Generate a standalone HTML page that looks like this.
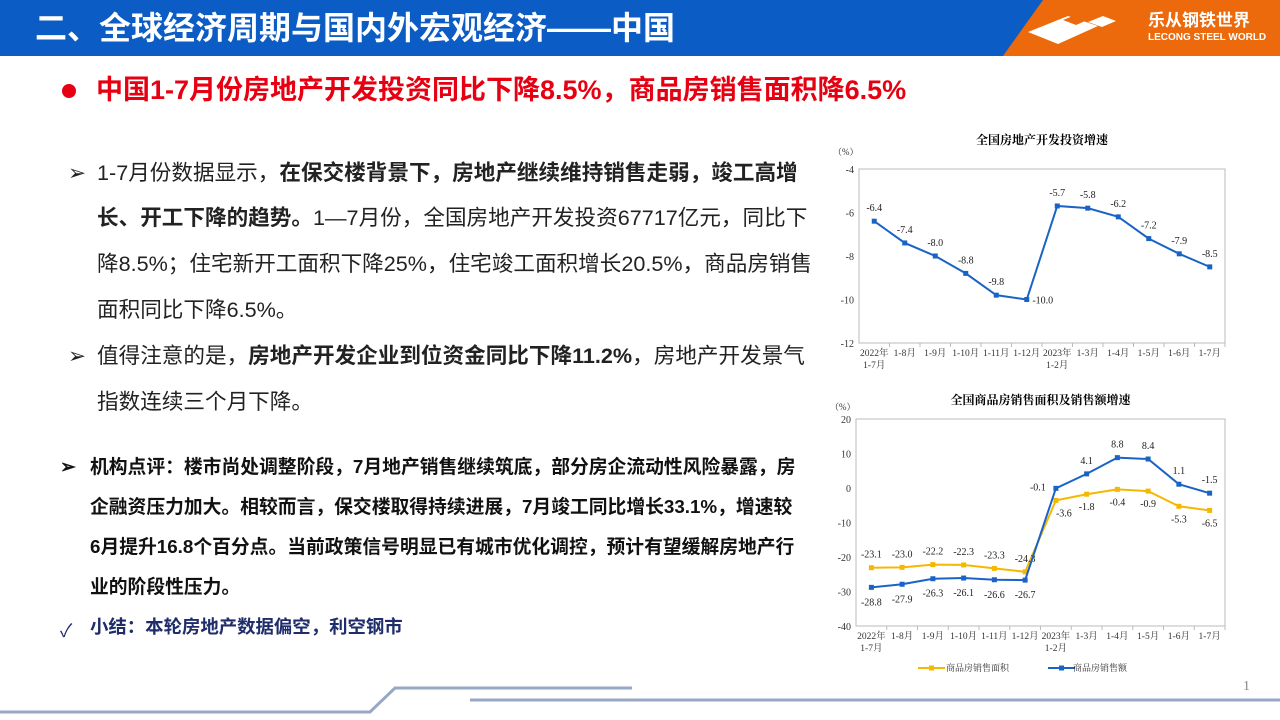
<!DOCTYPE html>
<html><head><meta charset="utf-8">
<style>
body{margin:0;width:1280px;height:720px;overflow:hidden;background:#fff;font-family:"Liberation Sans","Noto Sans CJK SC",sans-serif;position:relative}
.abs{position:absolute;white-space:nowrap}
.body{font-size:21.6px;color:#222;line-height:22px}
.b{font-weight:bold}
.cm{font-size:18.8px;font-weight:bold;color:#111;line-height:19px}
svg text{font-family:"Liberation Serif","Noto Serif CJK SC",serif}
</style></head><body>
<div class="abs" style="left:0;top:0;width:1280px;height:56px;background:#0b5cc4"></div>
<div class="abs" style="left:1003px;top:0;width:277px;height:56px;background:#ec6a0c;clip-path:polygon(40px 0,277px 0,277px 56px,0 56px)"></div>
<div class="abs" style="left:35px;top:10px;font-size:32px;font-weight:bold;color:#fff;line-height:36px">二、全球经济周期与国内外宏观经济——中国</div>
<svg class="abs" style="left:1028px;top:8px" width="118" height="40" viewBox="0 0 118 40"><polygon points="0,24 40,8 70,18 30,36" fill="#fff"/><polygon points="35,12 50,6 62,11 48,17" fill="#ec6a0c"/><polygon points="60,14 75,8 88,13 74,19" fill="#fff"/></svg>
<div class="abs" style="left:1148px;top:12px;font-size:17px;font-weight:bold;color:#fff;line-height:18px">乐从钢铁世界</div>
<div class="abs" style="left:1148px;top:32px;font-size:10px;font-weight:bold;color:#fff;line-height:12px">LECONG STEEL WORLD</div>

<div class="abs" style="left:62px;top:84px;width:14px;height:14px;border-radius:50%;background:#e60012"></div>
<div class="abs" style="left:96px;top:75px;font-size:27px;font-weight:bold;color:#e60012;line-height:31px">中国1-7月份房地产开发投资同比下降8.5%，商品房销售面积降6.5%</div>

<div class="abs body" style="left:68px;top:162px">➢</div>
<div class="abs body" style="left:97px;top:162px">1-7月份数据显示，<span class="b">在保交楼背景下，房地产继续维持销售走弱，竣工高增</span></div>
<div class="abs body" style="left:97px;top:207px"><span class="b">长、开工下降的趋势。</span>1—7月份，全国房地产开发投资67717亿元，同比下</div>
<div class="abs body" style="left:97px;top:253px">降8.5%；住宅新开工面积下降25%，住宅竣工面积增长20.5%，商品房销售</div>
<div class="abs body" style="left:97px;top:299px">面积同比下降6.5%。</div>
<div class="abs body" style="left:68px;top:345px">➢</div>
<div class="abs body" style="left:97px;top:345px">值得注意的是，<span class="b">房地产开发企业到位资金同比下降11.2%</span>，房地产开发景气</div>
<div class="abs body" style="left:97px;top:391px">指数连续三个月下降。</div>

<div class="abs cm" style="left:60px;top:457px">➢</div>
<div class="abs cm" style="left:90px;top:457px">机构点评：楼市尚处调整阶段，7月地产销售继续筑底，部分房企流动性风险暴露，房</div>
<div class="abs cm" style="left:90px;top:497px">企融资压力加大。相较而言，保交楼取得持续进展，7月竣工同比增长33.1%，增速较</div>
<div class="abs cm" style="left:90px;top:537px">6月提升16.8个百分点。当前政策信号明显已有城市优化调控，预计有望缓解房地产行</div>
<div class="abs cm" style="left:90px;top:577px">业的阶段性压力。</div>
<div class="abs" style="left:60px;top:617px;font-size:18px;color:#1f2d6b">✓</div>
<div class="abs" style="left:90px;top:617px;font-size:18.4px;font-weight:bold;color:#1f2d6b;line-height:19px">小结：本轮房地产数据偏空，利空钢市</div>

<svg class="abs" style="left:0;top:0" width="1280" height="720"><polyline points="0,712 370,712 395,688 632,688" fill="none" stroke="#97a8c4" stroke-width="3"/><line x1="470" y1="700" x2="1280" y2="700" stroke="#97a8c4" stroke-width="3"/><text x="1243" y="690" font-size="14" fill="#888">1</text></svg>

<svg id="c1" class="abs" style="left:0;top:0" width="1280" height="720"></svg>
<svg id="c2" class="abs" style="left:0;top:0" width="1280" height="720"></svg>

<script>
const cats = ["2022年|1-7月","1-8月","1-9月","1-10月","1-11月","1-12月","2023年|1-2月","1-3月","1-4月","1-5月","1-6月","1-7月"];
const invest = [-6.4,-7.4,-8.0,-8.8,-9.8,-10.0,-5.7,-5.8,-6.2,-7.2,-7.9,-8.5];
const invTicks = [-4,-6,-8,-10,-12];
const salesArea = [-23.1,-23.0,-22.2,-22.3,-23.3,-24.3,-3.6,-1.8,-0.4,-0.9,-5.3,-6.5];
const salesAmount = [-28.8,-27.9,-26.3,-26.1,-26.6,-26.7,-0.1,4.1,8.8,8.4,1.1,-1.5];
const salesTicks = [20,10,0,-10,-20,-30,-40];
const NS="http://www.w3.org/2000/svg";
function mk(svg,tag,at,txt){const e=document.createElementNS(NS,tag);for(const k in at)e.setAttribute(k,at[k]);if(txt!==undefined)e.textContent=txt;svg.appendChild(e);return e;}
function chart(svg,o){
  const x0=o.x0,x1=o.x1,y0=o.y0,y1=o.y1,n=cats.length,cw=(x1-x0)/n;
  const X=i=>x0+cw*(i+0.5), Y=v=>y0+(o.max-v)/(o.max-o.min)*(y1-y0);
  let t=mk(svg,"text",{x:(x0+x1)/2,y:o.ty,"font-size":12,"text-anchor":"middle","font-weight":"bold"},o.title);
  
  
  mk(svg,"text",{x:x0-26,y:o.uy,"font-size":9,fill:"#333"},"（%）");
  let fr=mk(svg,"rect",{x:x0,y:y0,width:x1-x0,height:y1-y0,fill:"none",stroke:"#bbb","stroke-width":1});
  
  
  o.ticks.forEach(v=>{const e=mk(svg,"text",{x:x0-5,y:Y(v)+4,"font-size":10,"text-anchor":"end",fill:"#333"},v);
    
    });
  cats.forEach((c,i)=>{
    mk(svg,"line",{x1:x0+cw*(i+1),x2:x0+cw*(i+1),y1:y1,y2:y1+4,stroke:"#bbb"});
    c.split("|").forEach((s,j)=>{const e=mk(svg,"text",{x:X(i),y:y1+13+j*12,"font-size":9.5,"text-anchor":"middle",fill:"#333"},s);
      
      });
  });
  o.series.forEach(s=>{
    const p=mk(svg,"polyline",{points:s.d.map((v,i)=>X(i)+","+Y(v)).join(" "),fill:"none",stroke:s.c,"stroke-width":2});
    
    
    s.d.forEach((v,i)=>{
      const m=mk(svg,"rect",{x:X(i)-2.5,y:Y(v)-2.5,width:5,height:5,fill:s.c});
      
      
      const dy=s.lab(i,v);
      const l=mk(svg,"text",{x:X(i)+(dy.dx||0),y:Y(v)+dy.dy,"font-size":10,"text-anchor":"middle",fill:"#222"},v.toFixed(1));
      
      
    });
  });
}
chart(document.getElementById("c1"),{x0:859,x1:1225,y0:169,y1:343,max:-4,min:-12,ticks:invTicks,title:"全国房地产开发投资增速",ty:144,uy:155,
  series:[{name:"investment",d:invest,c:"#1a63c6",lab:(i,v)=>i==5?{dy:4,dx:16}:{dy:-10}}]});
chart(document.getElementById("c2"),{x0:856,x1:1225,y0:419,y1:626,max:20,min:-40,ticks:salesTicks,title:"全国商品房销售面积及销售额增速",ty:404,uy:410,
  series:[{name:"sales-area",d:salesArea,c:"#f5b800",lab:(i,v)=>i<6?{dy:-10}:{dy:16,dx:i==6?8:0}},
          {name:"sales-amount",d:salesAmount,c:"#1a63c6",lab:(i,v)=>i<6?{dy:18}:(i==6?{dy:2,dx:-18}:{dy:-10})}]});
const s2=document.getElementById("c2");
let lg=mk(s2,"g",{});


mk(lg,"line",{x1:918,x2:945,y1:668,y2:668,stroke:"#f5b800","stroke-width":2});
mk(lg,"rect",{x:929,y:665.5,width:5,height:5,fill:"#f5b800"});
mk(lg,"text",{x:946,y:671,"font-size":9,fill:"#333"},"商品房销售面积");
mk(lg,"line",{x1:1048,x2:1075,y1:668,y2:668,stroke:"#1a63c6","stroke-width":2});
mk(lg,"rect",{x:1059,y:665.5,width:5,height:5,fill:"#1a63c6"});
mk(lg,"text",{x:1073,y:671,"font-size":9,fill:"#333"},"商品房销售额");
</script>
</body></html>
